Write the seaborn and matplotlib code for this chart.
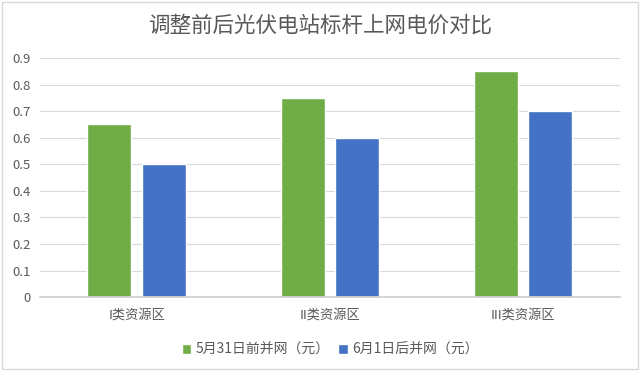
import pandas as pd
import matplotlib.pyplot as plt
import seaborn as sns

# --- Data ---
regions = ['I类资源区', 'II类资源区', 'III类资源区']
series = ['5月31日前并网（元）', '6月1日后并网（元）']
before = [0.65, 0.75, 0.85]
after = [0.50, 0.60, 0.70]
colors = ['#70AD47', '#4472C4']

df = pd.DataFrame({
    'region': regions * 2,
    'series': [series[0]] * 3 + [series[1]] * 3,
    'price': before + after,
})

# --- Style ---
sns.set_theme(style='white')
plt.rcParams['font.family'] = ['Noto Sans CJK SC', 'DejaVu Sans']
text_color = '#595959'

fig = plt.figure(figsize=(6.4, 3.71), dpi=100)
ax = fig.add_axes([0.0625, 0.199, 0.906, 0.6447])

sns.barplot(data=df, x='region', y='price', hue='series', palette=colors,
            width=0.562, gap=0.19, saturation=1, ax=ax)

ax.set_ylim(0, 0.9)
ax.set_yticks([i / 10 for i in range(10)])
ax.set_yticklabels(['0'] + [f'{i / 10:.1f}' for i in range(1, 10)])
ax.yaxis.grid(True, color='#d9d9d9', linewidth=0.8)
ax.set_axisbelow(True)
for s in ['top', 'right', 'left']:
    ax.spines[s].set_visible(False)
ax.spines['bottom'].set_color('#d0d0d0')
ax.tick_params(axis='both', colors=text_color, labelsize=9.5, length=0)
ax.tick_params(axis='y', pad=7)
ax.tick_params(axis='x', pad=8)
ax.set_xlabel('')
ax.set_ylabel('')

fig.text(0.5, 0.932, '调整前后光伏电站标杆上网电价对比', ha='center', va='center',
         fontsize=15.5, color=text_color)

leg = ax.legend(loc='center', bbox_to_anchor=(0.5, -0.22), ncol=2, frameon=False,
                fontsize=10, handlelength=0.7, handleheight=0.7, handletextpad=0.3,
                columnspacing=0.6, labelcolor=text_color)

# light border around the figure
fig.patches.append(plt.Rectangle((0.003, 0.005), 0.994, 0.99, transform=fig.transFigure,
                                 fill=False, edgecolor='#d9d9d9', linewidth=1))

fig.savefig('out.png', dpi=100)
